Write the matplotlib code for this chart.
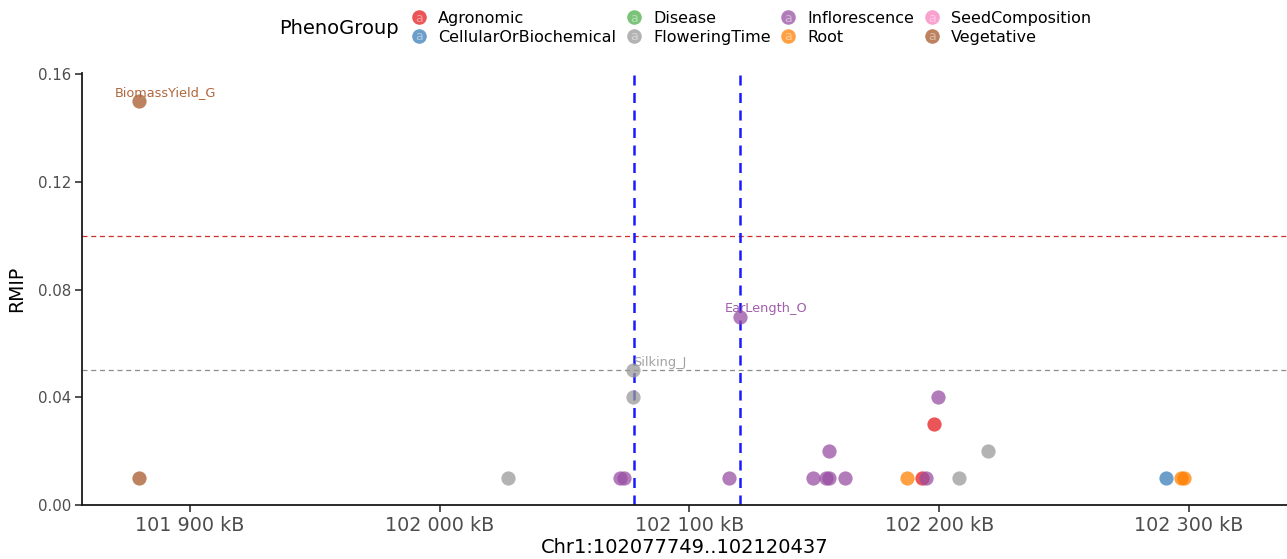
import matplotlib
matplotlib.use("Agg")
import matplotlib.pyplot as plt
from matplotlib.legend_handler import HandlerBase
from matplotlib.lines import Line2D
from matplotlib.text import Text
from matplotlib.ticker import FuncFormatter

# ---- data -------------------------------------------------------------
groups = ["Agronomic", "CellularOrBiochemical", "Disease", "FloweringTime",
          "Inflorescence", "Root", "SeedComposition", "Vegetative"]
group_colors = ["#E41A1C", "#377EB8", "#4DAF4A", "#999999",
                "#984EA3", "#FF7F00", "#F781BF", "#A65628"]

positions = [101879600, 101879600, 102027400, 102072200, 102073800,
             102077400, 102077400, 102115900, 102120300, 102149500,
             102154700, 102155900, 102162300, 102155900, 102187000,
             102193200, 102194800, 102198000, 102199400, 102208000,
             102219600, 102290900, 102296900, 102298100]
rmip = [0.15, 0.01, 0.01, 0.01, 0.01,
        0.05, 0.04, 0.01, 0.07, 0.01,
        0.01, 0.01, 0.01, 0.02, 0.01,
        0.01, 0.01, 0.03, 0.04, 0.01,
        0.02, 0.01, 0.01, 0.01]
pheno = ["Vegetative", "Vegetative", "FloweringTime", "Inflorescence", "Inflorescence",
         "FloweringTime", "FloweringTime", "Inflorescence", "Inflorescence", "Inflorescence",
         "Inflorescence", "Inflorescence", "Inflorescence", "Inflorescence", "Root",
         "Agronomic", "Inflorescence", "Agronomic", "Inflorescence", "FloweringTime",
         "FloweringTime", "CellularOrBiochemical", "Root", "Root"]

label_index = [0, 5, 8]
label_text = ["BiomassYield_G", "Silking_J", "EarLength_O"]

region_start = 102077749
region_end = 102120437
thresholds = [0.1, 0.05]
x_ticks = [101900000, 102000000, 102100000, 102200000, 102300000]
y_ticks = [0.00, 0.04, 0.08, 0.12, 0.16]

# ---- figure -----------------------------------------------------------
W, H = 1287, 559
fig = plt.figure(figsize=(W / 100, H / 100), dpi=100)
ax = fig.add_axes([82 / W, 54 / H, 1 - 82 / W, (505 - 73) / H])

cmap = dict(zip(groups, group_colors))
alpha = 0.74

ax.axhline(thresholds[0], color="#D22B2B", lw=0.9, ls=(0, (4, 3)), zorder=1)
ax.axhline(thresholds[1], color="#8C8C8C", lw=0.9, ls=(0, (4, 3)), zorder=1)
for xv in (region_start, region_end):
    ax.axvline(xv, color="#1A1AFF", lw=1.8, ls=(0, (4, 3)), zorder=1)

for g in groups:
    xs = [p for p, k in zip(positions, pheno) if k == g]
    ys = [r for r, k in zip(rmip, pheno) if k == g]
    if xs:
        ax.scatter(xs, ys, s=105, color=cmap[g], alpha=alpha, lw=0, zorder=3)

for i, t in zip(label_index, label_text):
    ax.annotate(t, (positions[i], rmip[i]), xytext=(19, 6), textcoords="offset points",
                ha="center", va="center", fontsize=9.3, color=cmap[pheno[i]],
                alpha=0.9, zorder=4)

ax.set_xlim(101856750, 102339300)
ax.set_ylim(0, 0.1605)
ax.set_xticks(x_ticks)
ax.set_yticks(y_ticks)
ax.xaxis.set_major_formatter(FuncFormatter(
    lambda v, _: f"{int(round(v / 1000)):,}".replace(",", " ") + " kB"))
ax.yaxis.set_major_formatter(FuncFormatter(lambda v, _: f"{v:.2f}"))
ax.tick_params(axis="x", labelsize=13.8, colors="#4D4D4D", length=5, width=1.1, pad=3)
ax.tick_params(axis="y", labelsize=10.8, colors="#4D4D4D", length=5, width=1.1, pad=3)
ax.tick_params(axis="both", color="#222222")
for s in ("top", "right"):
    ax.spines[s].set_visible(False)
for s in ("left", "bottom"):
    ax.spines[s].set_linewidth(1.3)
    ax.spines[s].set_color("#1A1A1A")

ax.set_xlabel("Chr1:102077749..102120437", fontsize=14, color="black", labelpad=2)
ax.set_ylabel("RMIP", fontsize=13.5, color="black", labelpad=8)


# ---- legend -----------------------------------------------------------
class KeyHandler(HandlerBase):
    def create_artists(self, legend, orig_handle, xdescent, ydescent, width, height,
                       fontsize, trans):
        cx = width / 2 - xdescent
        cy = height / 2 - ydescent
        c = orig_handle.get_color()
        dot = Line2D([cx], [cy], marker="o", ms=10.5, ls="", color=c, alpha=alpha,
                     markeredgewidth=0, transform=trans)
        letter = Text(cx, cy - 0.5, "a", color="white", alpha=0.45, fontsize=9,
                      ha="center", va="center", transform=trans)
        return [dot, letter]


handles = [Line2D([], [], color=c) for c in group_colors]
leg = fig.legend(handles, groups, ncol=4, loc="upper left",
                 bbox_to_anchor=(411 / W, 1 - 11 / H), frameon=False,
                 fontsize=11.5, handlelength=1.0, handletextpad=0.7,
                 columnspacing=0.6, labelspacing=0.22, borderpad=0, borderaxespad=0,
                 handler_map={Line2D: KeyHandler()})
fig.text(279 / W, 1 - 29 / H, "PhenoGroup", fontsize=14, va="center", ha="left")

fig.savefig("out.png", dpi=100)
